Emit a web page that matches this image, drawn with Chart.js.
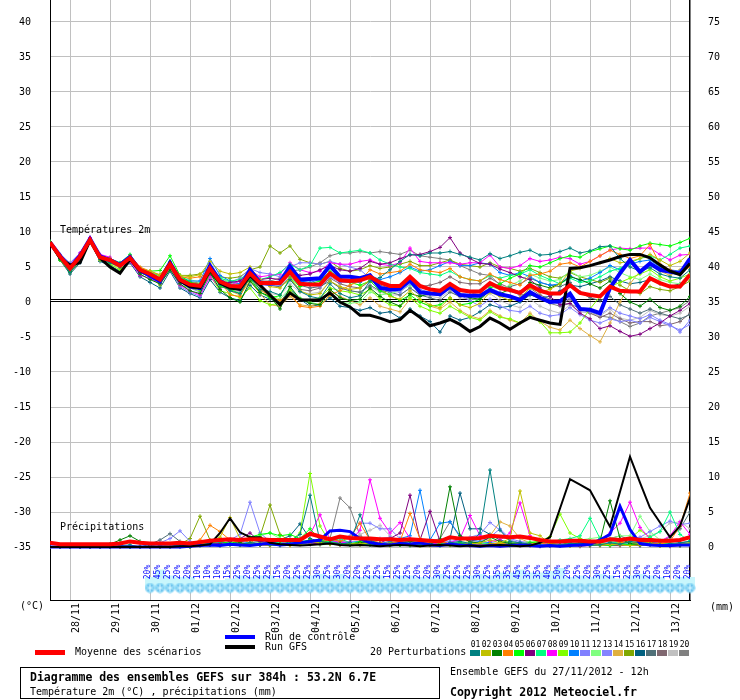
<!DOCTYPE html>
<html>
<head>
<meta charset="utf-8">
<script src="https://cdn.jsdelivr.net/npm/chart.js@4.4.0/dist/chart.umd.min.js"></script>
<style>
body { margin: 0; background: #fff; }
#wrap { position: relative; width: 740px; height: 700px; font-family: "DejaVu Sans Mono", monospace; font-size: 10px; color: #000; }
#wrap canvas { position: absolute; left: 0; top: 0; }
.t { position: absolute; white-space: pre; line-height: 10px; }
.b { font-weight: bold; font-size: 11.5px; line-height: 12px; }
.sw { position: absolute; }
.num { position: absolute; font-size: 8px; line-height: 8px; width: 11px; text-align: center; }
#box { position: absolute; left: 20px; top: 667px; width: 418px; height: 30px; border: 1.5px solid #000; }
</style>
</head>
<body>
<div id="wrap">
  <canvas id="gefs" width="740" height="640"></canvas>
  <div class="t" style="left:60px;top:225px">Températures 2m</div>
  <div class="t" style="left:60px;top:522px">Précipitations</div>
  <div class="t" style="left:20px;top:601px">(°C)</div>
  <div class="t" style="left:710px;top:602px">(mm)</div>

  <div class="sw" style="left:225px;top:635px;width:30px;height:4px;background:#0000ff"></div>
  <div class="t" style="left:265px;top:632px">Run de contrôle</div>
  <div class="sw" style="left:225px;top:645px;width:30px;height:4px;background:#000"></div>
  <div class="t" style="left:265px;top:642px">Run GFS</div>
  <div class="sw" style="left:35px;top:650px;width:30px;height:5px;background:#ff0000"></div>
  <div class="t" style="left:75px;top:647px">Moyenne des scénarios</div>
  <div class="t" style="left:370px;top:647px">20 Perturbations</div>
  <div id="palette"></div>

  <div id="box"></div>
  <div class="t b" style="left:30px;top:671px">Diagramme des ensembles GEFS sur 384h : 53.2N 6.7E</div>
  <div class="t" style="left:30px;top:687px">Température 2m (°C) , précipitations (mm)</div>
  <div class="t" style="left:450px;top:667px">Ensemble GEFS du 27/11/2012 - 12h</div>
  <div class="t b" style="left:450px;top:686px">Copyright 2012 Meteociel.fr</div>
</div>
<script>
// pas de temps (heures depuis le 27/11 12h)
const steps = [0,6,12,18,24,30,36,42,48,54,60,66,72,78,84,90,
  96,102,108,114,120,126,132,138,144,150,156,162,168,174,180,186,
  192,198,204,210,216,222,228,234,240,246,252,258,264,270,276,282,
  288,294,300,306,312,318,324,330,336,342,348,354,360,366,372,378,384];

const dayHours = [12,36,60,84,108,132,156,180,204,228,252,276,300,324,348,372];
const dayLabels = ['28/11','29/11','30/11','01/12','02/12','03/12','04/12','05/12',
  '06/12','07/12','08/12','09/12','10/12','11/12','12/12','13/12'];

const leftTicks = [40,35,30,25,20,15,10,5,0,-5,-10,-15,-20,-25,-30,-35];
const rightTicks = [75,70,65,60,55,50,45,40,35,30,25,20,15,10,5,0];

// probabilité de neige
const snowHours = [60,66,72,78,84,90,96,102,108,114,120,126,132,138,144,150,156,162,
  168,174,180,186,192,198,204,210,216,222,228,234,240,246,252,258,264,270,276,282,
  288,294,300,306,312,318,324,330,336,342,348,354,360,366,372,378,384];
const snowPct = [20,45,25,20,20,10,10,10,15,25,20,25,25,15,20,25,25,30,25,30,20,20,
  25,25,15,25,25,20,20,30,25,25,25,30,25,35,35,45,35,35,40,50,20,25,20,30,25,15,25,
  30,25,20,10,20,20];

const pertColors = ['#008080','#c0c000','#008000','#ff8000','#00ff00','#800080','#00ff80',
  '#ff00ff','#80ff00','#0080ff','#8080ff','#80ff80','#8484ff','#e0b040','#80a800',
  '#006080','#507078','#806870','#c0c0c0','#808080'];

// températures 2m
const tempMean = [8.5,6.5,4.8,6.5, 8.9,6.4,6.0,5.2, 6.3,4.6,4.0,3.2, 5.4,3.2,2.5,2.3,
  4.8,2.9,2.3,2.2, 4.1,2.7,2.7,2.7, 4.3,2.6,2.5,2.5, 4.1,3.1,3.0,3.1,
  3.6,2.8,2.3,2.3, 3.6,2.3,1.8,1.6, 2.6,1.7,1.5,1.5, 2.7,2.0,1.7,1.3,
  2.4,1.6,1.2,1.2, 2.4,1.3,1.0,0.8, 2.2,1.6,1.5,1.5, 3.4,2.7,2.2,2.2, 3.9];
const tempCtrl = [8.5,6.6,4.9,6.6, 9.0,6.5,6.0,5.3, 6.4,4.5,3.8,3.0, 5.6,3.1,2.2,2.0,
  5.2,3.0,2.2,2.0, 4.6,2.8,2.6,2.8, 5.1,3.2,3.3,3.4, 5.2,3.6,3.6,3.4,
  3.8,2.0,1.8,1.9, 3.1,1.4,1.2,1.1, 2.2,1.0,0.9,0.9, 1.7,1.1,0.8,0.3,
  1.4,0.6,0.0,0.1, 1.2,-1.0,-1.1,-1.6, 2.0,4.1,6.0,4.3, 5.5,4.6,4.3,4.1, 6.2];
const tempGfs = [8.5,6.3,5.3,5.6, 8.8,6.3,5.0,4.1, 6.1,4.5,4.0,3.2, 5.5,3.0,2.2,2.0,
  4.6,2.7,2.0,1.8, 3.8,2.4,1.0,-0.4, 1.3,0.3,0.3,0.3, 1.3,0.0,-0.7,-1.9,
  -1.9,-2.3,-2.8,-2.5, -1.2,-2.2,-3.4,-3.0, -2.5,-3.2,-4.2,-3.5, -2.3,-3.0,-3.9,-3.0,
  -2.2,-2.6,-3.0,-3.2, 4.8,4.9,5.2,5.6, 6.0,6.5,6.8,6.8, 6.3,5.3,4.4,3.9, 5.5];

const tempP01 = [8.3,6.2,4.2,6.0, 9.0,6.1,5.6,5.0, 6.5,4.4,3.6,2.8, 5.2,3.0,2.4,1.8,
  4.5,2.5,1.6,1.2, 3.5,1.8,1.5,1.0, 3.2,1.5,0.8,0.5, 2.6,1.2,0.6,0.9,
  3.0,3.5,4.6,5.8, 6.8,6.6,7.0,7.0, 7.2,6.8,6.4,6.0, 6.9,6.2,6.6,7.1,
  7.4,6.7,6.8,7.2, 7.7,7.0,7.3,7.9, 8.0,6.2,5.0,4.4, 4.9,4.0,3.6,3.4, 4.6];
const tempP02 = [8.4,6.4,4.6,6.3, 8.7,6.0,5.8,5.0, 6.0,4.8,4.4,3.8, 5.6,3.8,3.6,3.9,
  5.8,4.4,4.0,4.2, 5.0,3.2,2.2,2.0, 3.4,1.6,1.0,1.2, 3.0,2.2,1.8,2.0,
  3.2,2.0,0.8,0.4, 1.6,0.4,-0.4,-0.8, 0.6,-0.4,-0.8,-0.2, 1.4,0.8,0.2,0.6,
  2.0,1.4,1.8,2.6, 4.4,4.8,5.2,5.6, 6.2,5.6,5.8,6.2, 6.8,6.0,5.2,5.8, 7.0];
const tempP03 = [8.6,6.2,4.4,6.4, 8.8,6.6,5.8,5.5, 6.0,4.0,3.2,2.6, 4.6,2.6,1.6,1.2,
  4.2,1.8,0.6,0.0, 3.0,1.4,0.8,-1.0, 2.2,0.4,-0.2,-0.4, 1.8,0.6,0.2,0.4,
  2.0,0.8,0.0,-0.6, 1.2,0.8,1.2,1.6, 2.2,1.0,0.6,0.4, 1.6,1.2,1.8,1.4,
  2.8,2.4,2.0,2.6, 3.6,3.2,2.6,2.0, 3.0,1.2,0.0,-0.6, 0.4,-0.8,-1.2,-0.6, 0.8];
const tempP04 = [8.5,6.6,5.0,6.8, 9.0,6.3,6.2,5.4, 6.6,5.0,4.4,3.9, 5.5,3.6,3.4,3.6,
  4.2,3.0,1.0,0.8, 3.6,1.8,0.8,0.2, 1.2,-0.6,-0.8,-0.6, 1.0,1.6,2.4,3.0,
  4.6,4.0,4.2,4.4, 5.4,4.6,4.4,4.2, 4.8,3.6,3.2,3.0, 4.0,3.2,2.8,2.4,
  3.8,4.0,4.4,5.4, 5.6,5.0,5.8,6.6, 7.4,6.8,6.2,6.6, 8.2,5.4,4.6,4.2, 5.0];
const tempP05 = [8.6,6.0,4.6,6.2, 9.0,6.2,5.6,5.4, 6.7,4.8,4.4,4.5, 6.6,3.8,2.8,2.5,
  4.4,2.2,1.8,1.2, 3.4,1.4,0.6,0.9, 3.4,2.2,2.6,3.0, 4.4,3.4,2.8,2.4,
  3.0,1.6,1.0,0.2, 1.0,0.0,-0.6,-0.4, 0.6,-0.4,-0.2,0.4, 2.0,2.6,3.4,4.0,
  5.2,5.0,5.6,6.2, 6.6,6.4,7.2,7.6, 8.0,7.6,7.4,8.0, 8.4,8.2,8.0,8.5, 9.1];
const tempP06 = [8.4,6.3,4.6,6.4, 8.8,6.4,6.2,5.2, 6.2,4.2,3.8,3.0, 5.4,3.0,2.6,2.4,
  4.0,2.6,2.8,3.0, 4.2,3.2,3.4,3.2, 4.6,3.8,4.0,4.6, 5.2,4.6,4.4,4.8,
  5.8,5.4,5.6,6.2, 6.7,6.8,7.2,7.8, 9.2,7.0,6.2,5.5, 5.4,4.7,4.2,3.6,
  3.2,2.0,0.8,-0.4, -0.2,-1.6,-2.4,-3.8, -3.4,-4.2,-4.9,-4.6, -3.8,-3.0,-2.0,-1.2, -0.2];
const tempP07 = [8.5,6.4,5.0,6.6, 8.9,6.6,6.2,5.6, 6.8,4.8,4.2,3.8, 5.8,3.6,2.8,2.4,
  5.0,3.4,3.0,3.2, 4.4,3.2,3.6,4.2, 5.4,4.6,5.2,7.7, 7.8,7.0,7.2,7.4,
  7.0,6.0,5.4,5.0, 4.8,4.2,4.0,3.8, 4.4,3.6,3.2,3.0, 3.8,3.4,3.8,4.0,
  4.6,3.8,3.2,2.6, 3.4,2.8,3.0,3.6, 4.4,4.8,5.6,6.2, 6.6,6.0,6.8,7.7, 8.0];
const tempP08 = [8.4,6.6,5.2,7.0, 9.2,6.8,6.4,5.0, 5.8,3.8,3.4,2.6, 5.0,2.4,1.6,1.0,
  3.6,2.0,2.4,3.0, 4.6,3.6,3.8,4.0, 5.6,4.6,4.2,4.4, 5.6,5.4,5.4,5.8,
  6.0,5.4,5.2,5.6, 7.7,5.8,5.6,5.6, 5.6,5.4,5.6,5.6, 6.7,5.0,4.8,5.2,
  6.2,5.8,6.0,6.4, 6.2,5.4,5.8,6.6, 7.4,7.7,7.6,7.7, 7.7,6.8,6.0,6.7, 6.8];
const tempP09 = [8.5,6.4,4.4,6.2, 8.6,6.0,5.4,4.6, 6.0,4.2,3.6,2.4, 4.8,2.4,2.0,1.6,
  3.8,1.6,1.2,0.6, 2.0,0.2,-0.4,-0.2, 1.6,0.4,0.2,0.6, 2.0,1.6,1.4,1.0,
  1.8,0.4,-0.4,-0.6, 0.6,-0.6,-1.2,-1.6, -0.6,-1.4,-2.2,-2.6, -1.4,-2.2,-2.4,-3.0,
  -2.0,-2.8,-4.4,-4.4, -4.3,-3.0,-1.0,0.8, 2.2,2.8,3.4,4.0, 4.6,3.6,3.0,3.4, 4.0];
const tempP10 = [8.6,6.5,5.0,6.6, 9.0,6.6,6.2,5.4, 6.4,4.4,4.0,3.4, 5.6,3.6,3.0,3.0,
  6.2,3.8,3.0,2.6, 4.4,3.0,2.8,2.6, 4.6,3.0,2.8,3.2, 4.0,3.0,2.8,2.8,
  3.8,3.2,3.6,4.2, 5.0,4.4,4.6,5.2, 5.8,5.2,5.2,5.6, 5.4,4.2,3.8,4.2,
  3.6,2.8,2.4,2.6, 3.8,3.0,3.4,4.2, 5.2,4.6,5.4,5.8, 6.0,5.0,4.6,4.4, 5.4];
const tempP11 = [8.4,6.8,5.6,7.0, 8.8,6.2,5.8,5.0, 6.4,4.4,3.4,2.6, 4.6,2.2,1.4,0.8,
  3.8,2.6,2.8,3.4, 4.8,4.2,4.0,3.6, 5.0,5.6,5.6,5.4, 5.8,5.4,5.0,4.6,
  3.4,2.2,1.6,1.4, 2.6,1.8,1.4,1.0, 2.4,1.8,1.4,1.0, 2.0,1.4,0.8,0.4,
  1.4,0.6,0.2,-0.4, 0.6,-0.8,-1.4,-1.8, -0.8,-1.6,-2.0,-2.4, -1.8,-2.6,-3.2,-4.3, -2.6];
const tempP12 = [8.5,6.6,5.2,6.8, 9.0,6.7,6.2,5.6, 6.6,4.8,4.2,3.6, 5.8,3.8,3.2,2.8,
  5.2,3.4,2.8,2.2, 3.8,1.8,1.0,0.4, 2.0,0.6,0.0,-0.4, 1.0,0.0,-0.2,0.0,
  1.4,1.0,1.2,1.6, 2.4,1.6,1.2,1.0, 2.0,1.2,0.8,0.8, 2.2,1.8,2.4,3.0,
  4.0,3.4,3.0,3.2, 4.4,3.6,3.8,4.4, 5.0,4.2,3.6,3.2, 4.0,3.2,2.8,2.6, 3.4];
const tempP13 = [8.6,6.4,4.8,6.4, 8.9,6.3,5.9,5.3, 6.2,4.4,3.8,3.0, 5.2,3.0,2.0,1.4,
  4.4,2.6,2.0,1.6, 3.4,2.4,2.4,2.4, 4.0,2.8,2.4,2.2, 3.6,2.8,2.8,3.0,
  3.4,2.6,2.0,1.8, 3.0,2.2,1.8,1.4, 2.0,1.0,0.2,-0.6, 0.4,-0.6,-1.2,-1.4,
  -0.6,-1.6,-2.0,-1.8, -0.8,-1.8,-2.6,-3.0, -2.4,-2.8,-2.6,-3.0, -2.2,-2.8,-3.4,-4.0, -3.2];
const tempP14 = [8.4,6.2,4.6,6.4, 8.7,6.4,5.6,4.8, 5.8,4.2,3.6,3.0, 5.0,3.2,2.8,2.6,
  4.8,2.8,1.6,1.0, 3.0,1.2,-0.4,-0.6, 0.8,-0.4,-0.6,-0.2, 1.6,0.8,0.2,-0.4,
  0.6,-0.6,-1.0,-1.4, 0.4,0.0,-0.6,-1.0, 0.0,-1.2,-2.0,-2.4, -1.2,-2.0,-2.6,-3.0,
  -1.6,-2.8,-3.6,-4.0, -2.6,-3.8,-4.8,-5.7, -3.0,0.0,2.6,4.4, 5.6,4.4,3.8,4.6, 5.8];
const tempP15 = [8.3,6.0,4.2,5.8, 8.6,6.2,5.6,5.0, 6.0,4.4,4.0,3.8, 5.0,3.8,3.8,4.0,
  5.0,3.6,3.4,3.6, 4.6,5.0,8.0,7.0, 8.0,6.1,5.6,5.4, 5.8,4.8,4.4,4.6,
  5.2,4.8,5.0,5.4, 5.8,5.2,5.2,5.6, 6.0,5.4,5.2,5.0, 5.6,5.0,4.8,4.4,
  4.8,4.2,3.6,3.4, 4.2,3.6,3.2,2.8, 3.4,2.4,1.6,1.2, 2.2,1.8,1.6,2.2, 3.0];
const tempP16 = [8.3,6.0,4.0,5.6, 8.6,5.8,5.2,4.4, 5.6,3.6,2.8,2.0, 4.4,2.0,1.2,0.6,
  3.2,1.4,0.6,0.2, 2.4,1.0,0.4,0.0, 1.8,0.4,-0.6,-0.4, 0.6,-0.6,-0.8,-1.2,
  -0.8,-1.6,-1.4,-2.3, -1.0,-2.0,-2.8,-4.3, -2.0,-2.6,-2.2,-1.4, -0.4,-0.8,-0.6,0.0,
  1.0,0.6,0.8,1.6, 2.4,2.2,2.6,3.0, 3.6,3.0,2.6,2.8, 3.2,2.6,2.2,2.6, 3.6];
const tempP17 = [8.5,6.2,4.4,6.1, 8.7,6.0,5.8,5.2, 6.1,4.4,3.8,3.2, 5.2,3.4,2.8,2.6,
  4.6,3.0,2.6,2.4, 3.6,2.6,2.4,2.2, 3.6,2.4,2.0,2.2, 3.0,2.0,1.6,1.4,
  2.4,1.6,1.4,1.0, 2.0,1.0,0.6,0.2, 1.4,0.8,1.0,1.6, 2.4,2.0,2.2,2.6,
  3.4,2.8,2.4,2.2, 2.8,1.4,0.6,0.2, 0.8,-0.4,-1.0,-1.6, -1.0,-1.6,-2.0,-2.4, -1.8];
const tempP18 = [8.6,6.6,5.0,6.7, 9.1,6.5,6.0,5.2, 6.4,4.6,4.0,3.4, 5.4,3.4,2.6,2.2,
  4.6,2.6,2.2,2.0, 3.8,2.6,2.4,2.2, 3.2,1.8,1.6,2.0, 3.4,2.6,2.2,2.0,
  3.0,2.4,2.0,1.8, 2.8,2.2,2.4,2.8, 3.6,2.8,2.6,2.6, 3.4,2.6,2.0,1.4,
  2.0,1.0,0.4,-0.4, 0.4,-0.8,-1.6,-2.2, -1.6,-2.4,-3.0,-2.8, -2.8,-3.4,-3.2,-2.8, -1.6];
const tempP19 = [8.4,6.5,4.9,6.5, 8.8,6.4,5.9,5.1, 6.2,4.5,3.9,3.1, 5.3,3.2,2.4,2.0,
  4.4,2.4,1.8,1.4, 3.2,1.6,1.2,1.0, 2.6,1.4,1.2,1.4, 3.0,2.0,1.6,1.4,
  2.2,1.4,1.0,1.0, 2.0,1.2,0.8,0.6, 1.6,0.6,0.4,0.4, 1.2,0.2,-0.4,-0.8,
  0.4,-0.6,-1.2,-1.6, -0.4,-1.4,-1.6,-2.0, -1.0,-2.3,-2.6,-2.2, -1.2,-1.8,-2.0,-1.6, -0.6];
const tempP20 = [8.6,6.3,4.6,6.6, 9.0,6.4,6.0,5.3, 6.5,4.7,4.1,3.5, 5.6,3.5,2.9,2.7,
  5.0,3.2,2.8,2.6, 4.2,3.0,3.0,3.4, 4.4,4.6,5.0,5.6, 6.6,7.0,7.0,7.2,
  7.0,7.2,7.0,6.8, 7.4,6.6,6.4,6.2, 6.0,5.2,4.6,4.0, 3.8,2.4,1.6,1.0,
  1.2,0.4,-0.2,-0.6, -0.2,-1.0,-1.4,-2.0, -2.2,-2.8,-3.5,-3.0, -2.0,-1.6,-1.2,-0.8, 0.2];

// précipitations (mm)
const precMean = [0.6,0.4,0.4,0.4,0.4,0.4,0.4,0.5,0.8,0.6,0.5,0.5,0.5,0.6,0.5,0.7,
  0.9,1.0,1.1,1.0,1.1,1.1,1.0,1.0,1.0,1.0,1.9,1.5,1.1,1.5,1.3,1.2,
  1.2,1.1,1.1,1.0,1.1,1.0,0.9,0.8,1.4,1.2,1.2,1.3,1.6,1.5,1.4,1.5,
  1.3,1.0,0.8,0.8,0.9,0.9,0.8,0.8,1.1,1.0,1.2,1.0,1.0,0.9,0.9,1.0, 1.4];
const precCtrl = [0,0,0,0,0,0,0,0,0,0,0,0,0,0,0.1,0.2,
  0.3,0.2,0.4,0.3,0.2,0.4,0.5,0.3,0.4,0.6,0.8,1.0,2.3,2.4,2.2,1.2,
  0.6,0.4,0.3,0.5,0.4,0.6,0.3,0.2,0.4,0.3,0.2,0.1,0.2,0.1,0.2,0.3,
  0.2,0.1,0.2,0.1,0.2,0.3,0.4,1.0,1.8,5.8,2.5,0.5,0.3,0.2,0.2,0.3, 0.3];
const precGfs = [0,0,0,0,0,0,0,0,0,0,0,0,0,0.1,0.1,0.2,
  0.4,2.0,4.1,2.1,1.4,1.4,0.6,0.4,0.3,0.2,0.3,0.4,0.5,0.3,0.2,0.3,
  0.2,0.1,0.2,0.3,0.2,0.1,0.2,0.3,0.2,0.1,0.2,0.1,0.2,0.3,0.2,0.1,
  0.2,0.6,1.4,5.5,9.7,8.9,8.1,5.5,2.9,7.9,12.9,9.2,5.6,3.5,1.4,3.0, 7.0];

const precP01 = [0,0,0,0,0,0,0,0.2,0.3,0,0,0.2,0.4,0,0,0.3,
  0.5,0.2,0.4,0.3,0.6,0.4,0.3,0.2,0.8,1.8,7.4,0.8,0.6,0.4,0.6,4.6,
  1.0,0.4,0.3,0.6,0.5,0.3,0.4,0.2,0.6,0.8,0.5,2.0,11.0,2.4,0.8,0.6,
  0.4,0.2,0.2,0.3,0.5,0.4,0.2,0.3,0.6,0.4,0.8,0.6,0.4,0.3,0.5,0.6, 0.8];
const precP02 = [0,0,0,0,0,0,0,0,0.2,0.1,0,0,0.3,0.2,0,0.4,
  0.8,1.4,4.2,1.2,0.6,0.4,0.2,0.3,0.2,0.4,0.8,0.6,0.4,0.3,0.5,0.4,
  0.6,0.3,0.2,0.4,0.3,0.2,0.2,0.3,0.5,0.3,0.4,0.6,1.0,0.6,1.2,8.0,
  2.0,1.6,0.5,0.3,0.2,0.2,0.3,0.2,0.4,0.3,0.2,0.3,0.4,0.2,0.3,0.5, 0.6];
const precP03 = [0,0,0,0,0,0,0.4,1.0,1.6,0.8,0.2,0,0,0.2,0.1,0.3,
  0.4,0.3,0.5,0.6,0.4,0.3,0.6,0.4,0.5,0.6,1.0,0.7,0.6,0.5,0.4,0.6,
  0.5,0.4,0.3,0.6,0.8,0.6,0.4,1.0,8.6,1.6,0.7,0.6,1.4,0.8,0.5,0.4,
  0.3,0.2,0.3,0.2,0.4,0.6,0.3,0.8,6.6,1.2,0.5,0.3,0.4,0.2,0.3,0.2, 0.3];
const precP04 = [0,0,0,0,0,0,0,0,0.2,0,0,0,0.2,0.3,0.4,1.0,
  3.1,2.2,1.0,0.6,0.4,0.3,0.2,0.4,0.3,0.6,0.8,0.5,1.2,0.8,1.4,3.4,
  1.0,0.6,0.4,0.8,4.8,1.2,0.6,0.8,0.4,0.3,0.5,0.3,0.4,0.6,0.3,0.5,
  0.4,0.6,0.3,0.2,0.5,0.4,0.2,0.3,0.4,0.6,0.8,0.5,0.6,0.4,0.8,3.0, 7.7];
const precP05 = [0,0,0,0,0,0,0,0,0,0,0,0,0.2,0.3,0.2,0.4,
  0.6,0.8,0.5,0.9,1.4,1.8,2.0,1.6,1.8,1.2,2.6,1.0,0.6,0.5,0.4,0.8,
  0.6,0.4,0.5,0.3,0.4,0.6,0.8,0.5,0.4,0.6,0.3,0.2,0.4,0.5,0.3,0.4,
  0.6,0.8,0.5,0.3,0.2,0.4,0.6,0.3,0.2,0.4,0.3,0.5,0.6,0.4,0.3,0.5, 0.4];
const precP06 = [0,0,0,0,0,0,0,0,0,0.1,0,0,0.2,0.2,0.3,0.3,
  0.4,0.5,0.8,1.2,2.0,0.8,0.6,0.4,0.3,0.5,0.6,0.4,0.5,0.3,0.4,0.6,
  0.8,0.6,1.2,2.0,7.4,1.0,5.1,0.8,0.4,0.3,0.2,0.3,0.4,0.2,0.3,0.2,
  0.2,0.1,0.2,0.3,0.2,0.1,0.2,0.3,0.2,0.2,0.3,0.2,0.4,0.2,0.1,0.2, 0.2];
const precP07 = [0,0,0,0,0,0,0,0,0,0,0.2,0,0.2,0.3,0.2,0.2,
  0.4,0.3,0.6,0.4,0.6,0.4,0.8,0.6,0.5,0.8,1.0,0.6,0.8,1.2,0.6,0.4,
  0.3,0.5,0.4,0.3,0.2,0.4,0.3,0.2,0.4,0.6,0.3,0.4,0.5,0.3,0.2,0.4,
  0.3,0.5,0.8,1.0,1.2,1.6,4.1,1.2,0.8,0.5,0.6,0.8,1.4,2.2,5.0,1.8, 0.8];
const precP08 = [0,0,0,0,0,0,0,0,0,0,0,0,0.2,0.2,0.3,0.2,
  0.4,0.3,0.5,0.4,0.3,0.4,0.5,0.6,0.8,1.2,1.8,4.6,1.0,0.6,0.8,2.4,
  9.6,4.1,2.0,3.5,1.2,0.8,0.6,0.4,0.6,1.2,4.5,1.6,0.8,1.0,2.0,6.3,
  1.6,0.6,0.4,0.3,0.2,0.4,0.6,1.0,2.0,3.4,6.4,2.8,1.2,0.8,1.6,3.6, 1.8];
const precP09 = [0,0,0,0,0,0,0,0,0,0,0,0,0.1,0.2,0.2,0.3,
  0.3,0.4,0.3,0.2,0.4,0.6,0.4,0.5,0.8,2.0,10.5,3.0,0.6,0.4,0.3,0.5,
  0.4,0.3,0.2,0.3,0.4,0.2,0.3,0.4,0.2,0.3,0.5,0.4,0.3,0.6,0.8,0.4,
  0.6,0.8,1.5,4.7,2.0,1.2,0.8,0.6,0.4,0.8,1.2,2.4,1.4,0.6,0.4,0.3, 0.6];
const precP10 = [0,0,0,0,0,0,0,0,0,0,0,0,0.2,0.3,0.2,0.3,
  0.5,0.6,0.4,0.8,0.6,0.4,0.5,0.6,0.7,0.8,0.6,0.5,0.8,0.6,0.7,0.8,
  0.6,0.5,0.8,1.2,1.6,8.1,1.0,3.4,3.6,1.6,1.0,0.8,0.6,0.5,0.4,0.6,
  0.4,0.3,0.2,0.3,0.4,0.2,0.3,0.4,0.6,0.4,0.3,0.2,0.4,0.3,0.2,0.4, 0.5];
const precP11 = [0,0,0,0,0,0,0,0,0,0,0,0.6,1.2,2.3,0.8,0.4,
  0.6,0.8,1.0,1.8,6.4,2.0,0.8,0.6,0.5,0.6,0.8,0.7,0.6,0.9,1.6,3.4,
  3.4,2.6,2.6,1.2,0.8,0.6,0.9,1.0,0.8,0.6,0.5,0.8,1.4,2.6,1.2,0.8,
  0.6,0.4,0.3,0.5,0.8,1.2,0.8,0.6,0.5,0.8,1.2,1.4,2.2,3.0,3.7,3.2, 3.4];
const precP12 = [0,0,0,0,0,0,0,0,0,0,0,0,0.2,0.1,0.3,0.2,
  0.5,0.4,0.8,1.0,1.2,1.6,2.0,1.2,0.6,0.4,0.5,0.3,0.4,0.6,0.5,0.4,
  0.3,0.5,0.4,0.6,0.5,0.3,0.4,0.6,0.5,0.8,0.6,0.4,0.5,0.3,0.4,0.6,
  0.8,0.6,0.4,0.5,0.8,1.0,1.2,1.4,1.2,1.6,1.6,4.4,2.2,1.0,0.6,0.4, 0.5];
const precP13 = [0,0,0,0,0,0,0,0,0,0,0.1,0,0.2,0.2,0.3,0.2,
  0.3,0.4,0.3,0.5,0.4,0.6,0.8,0.5,0.4,0.6,0.5,0.4,0.6,0.8,0.5,0.6,
  0.8,1.2,1.4,1.0,0.6,0.8,0.5,0.6,0.8,1.0,1.4,1.8,3.5,2.4,1.0,0.6,
  0.4,0.3,0.4,0.2,0.3,0.5,0.4,0.3,0.6,0.8,0.4,0.3,0.5,0.6,0.4,0.3, 0.4];
const precP14 = [0,0,0,0,0,0,0,0,0,0,0,0,0.2,0.3,0.2,0.4,
  0.6,0.8,0.5,0.4,0.3,0.5,0.4,0.6,0.5,0.4,0.8,1.0,0.6,0.5,0.4,0.6,
  0.5,0.4,0.8,0.6,0.4,0.5,0.6,0.8,0.6,0.5,0.8,1.2,1.6,3.6,3.0,1.2,
  0.6,0.4,0.3,0.2,0.4,0.3,0.2,0.6,0.4,0.3,0.5,0.4,0.3,0.5,0.6,0.4, 0.5];
const precP15 = [0,0,0,0,0,0,0,0,0,0,0,0,0.2,0.4,1.2,4.4,
  1.0,0.6,0.5,0.4,0.6,1.5,6.0,1.8,0.8,0.6,0.5,0.6,0.4,0.5,0.4,0.3,
  0.4,0.3,0.6,0.5,0.4,0.3,0.6,0.8,0.5,0.6,0.4,0.3,0.5,0.4,0.3,0.6,
  0.5,0.4,0.3,0.5,0.4,0.6,0.3,0.5,0.4,0.6,0.4,0.3,0.5,0.4,0.6,0.3, 0.5];
const precP16 = [0,0,0,0,0,0,0,0,0,0,0,0,0.2,0.3,0.2,0.3,
  0.4,0.6,0.5,0.4,0.6,0.8,0.6,1.0,1.6,3.3,1.2,0.8,0.6,0.5,0.4,0.6,
  0.5,0.4,0.6,0.8,0.5,0.6,0.8,1.0,1.2,7.7,2.6,2.6,1.8,1.0,0.6,0.5,
  0.4,0.3,0.5,0.4,0.6,0.5,0.4,0.3,0.6,0.8,0.5,0.4,0.6,0.5,0.4,0.6, 0.8];
const precP17 = [0,0,0,0,0,0,0,0,0,0,0.4,1.0,1.9,0.8,0.4,0.2,
  0.3,0.4,0.3,0.5,0.4,0.3,0.5,0.4,0.6,0.5,0.4,0.6,0.5,0.4,0.3,0.5,
  0.6,0.4,0.3,0.5,0.4,0.6,0.5,0.3,0.4,0.6,0.5,0.4,0.3,0.5,0.4,0.6,
  0.5,0.4,0.3,0.2,0.4,0.6,0.8,1.0,1.2,1.6,1.0,0.8,0.6,0.8,1.4,2.6, 5.0];
const precP18 = [0,0,0,0,0,0,0,0,0,0,0,0,0.1,0.2,0.1,0.2,
  0.3,0.2,0.4,0.3,0.5,0.4,0.3,0.5,0.6,0.4,0.5,0.8,1.2,0.8,0.6,0.4,
  0.3,0.4,0.5,0.3,0.2,0.4,0.5,0.3,0.4,0.3,0.2,0.4,0.5,0.3,0.2,0.3,
  0.4,0.3,0.2,0.3,0.4,0.5,0.3,0.2,0.4,0.3,0.5,0.4,0.3,0.4,0.2,0.3, 0.4];
const precP19 = [0,0,0,0,0,0,0,0,0,0,0,0,0.1,0.1,0.2,0.2,
  0.3,0.4,0.3,0.2,0.4,0.3,0.4,0.5,0.4,0.6,0.5,0.4,0.6,0.8,1.2,1.8,
  2.4,3.1,1.6,0.8,0.6,0.4,0.3,0.5,0.4,0.3,0.2,0.4,0.3,0.5,0.4,0.3,
  0.2,0.3,0.4,0.3,0.2,0.4,0.3,0.5,0.4,0.6,0.8,1.2,1.6,2.2,3.4,3.6, 2.6];
const precP20 = [0,0,0,0,0,0,0,0,0,0,0,0,0.2,0.2,0.3,0.4,
  0.3,0.5,0.4,0.3,0.5,0.4,0.6,0.5,0.6,0.8,0.6,0.8,1.2,7.0,5.6,1.6,
  0.8,0.6,0.5,0.4,0.6,0.5,0.8,1.2,3.6,1.4,0.8,0.6,0.5,0.4,0.6,0.5,
  0.4,0.3,0.5,0.4,0.3,0.5,0.4,0.6,0.5,0.4,0.6,0.8,0.6,0.5,0.4,0.3, 0.4];

const tempPerts = [tempP01,tempP02,tempP03,tempP04,tempP05,tempP06,tempP07,tempP08,tempP09,tempP10,
  tempP11,tempP12,tempP13,tempP14,tempP15,tempP16,tempP17,tempP18,tempP19,tempP20];
const precPerts = [precP01,precP02,precP03,precP04,precP05,precP06,precP07,precP08,precP09,precP10,
  precP11,precP12,precP13,precP14,precP15,precP16,precP17,precP18,precP19,precP20];

const FONT = '"DejaVu Sans Mono", monospace';

// palette des perturbations
const pal = document.getElementById('palette');
pertColors.forEach((c, k) => {
  const n = document.createElement('div');
  n.className = 'num';
  n.style.left = (470 + 11 * k) + 'px';
  n.style.top = '641px';
  n.textContent = String(k + 1).padStart(2, '0');
  pal.appendChild(n);
  const s = document.createElement('div');
  s.className = 'sw';
  s.style.cssText = 'left:' + (470 + 11 * k) + 'px;top:650px;width:10px;height:6px;background:' + c;
  pal.appendChild(s);
});

function pts(arr) {
  return arr.map((v, i) => ({ x: steps[i], y: v }));
}

function mainSet(arr, col, axis, w) {
  return { data: pts(arr), yAxisID: axis, borderColor: col, backgroundColor: col,
    borderWidth: w, pointRadius: 0 };
}

function pertSet(arr, col, axis) {
  return { data: pts(arr), yAxisID: axis, borderColor: col, backgroundColor: col,
    borderWidth: 1, pointStyle: 'cross', pointRadius: 2, pointBorderWidth: 1,
    pointBorderColor: col };
}

// premier dataset = dessiné au-dessus
const datasets = [
  mainSet(tempMean, '#ff0000', 'yT', 4),
  mainSet(precMean, '#ff0000', 'yP', 4),
  mainSet(tempGfs, '#000000', 'yT', 3),
  mainSet(precGfs, '#000000', 'yP', 2),
  mainSet(tempCtrl, '#0000ff', 'yT', 4),
  mainSet(precCtrl, '#0000ff', 'yP', 3)
];
tempPerts.forEach((a, k) => datasets.push(pertSet(a, pertColors[k], 'yT')));
precPerts.forEach((a, k) => datasets.push(pertSet(a, pertColors[k], 'yP')));

// flocon
function makeFlake() {
  const c = document.createElement('canvas');
  c.width = 11; c.height = 11;
  const g = c.getContext('2d');
  g.fillStyle = '#80d2f4';
  g.beginPath(); g.arc(5.5, 5.5, 5, 0, Math.PI * 2); g.fill();
  g.strokeStyle = '#c8f0ff'; g.lineWidth = 1;
  for (let a = 0; a < 3; a++) {
    const ang = a * Math.PI / 3 + Math.PI / 2;
    g.beginPath();
    g.moveTo(5.5 - 4 * Math.cos(ang), 5.5 - 4 * Math.sin(ang));
    g.lineTo(5.5 + 4 * Math.cos(ang), 5.5 + 4 * Math.sin(ang));
    g.stroke();
  }
  g.fillStyle = '#3c9ee0';
  [[3, 3], [7, 3], [3, 7], [7, 7]].forEach(p => g.fillRect(p[0], p[1], 1, 1));
  g.fillStyle = '#ffffff';
  g.fillRect(5, 5, 1, 1);
  return c;
}
const flake = makeFlake();

const snowPlugin = {
  id: 'snow',
  beforeDatasetsDraw(chart) {
    const { ctx, chartArea: a } = chart;
    const x = chart.scales.x;
    ctx.save();
    // double ligne du zéro
    const y0 = Math.round(chart.scales.yT.getPixelForValue(0));
    ctx.strokeStyle = '#000';
    ctx.lineWidth = 1;
    ctx.beginPath();
    ctx.moveTo(a.left, y0 - 0.5); ctx.lineTo(a.right, y0 - 0.5);
    ctx.moveTo(a.left, y0 - 2.5); ctx.lineTo(a.right, y0 - 2.5);
    ctx.stroke();
    // barres de probabilité de neige
    ctx.fillStyle = '#c8f6fc';
    snowHours.forEach((h, k) => {
      const px = Math.round(x.getPixelForValue(h));
      const hgt = snowPct[k] * 0.3;
      ctx.fillRect(px - 5, a.bottom - 17 - hgt, 10, hgt + 6);
    });
    snowHours.forEach(h => {
      const px = Math.round(x.getPixelForValue(h));
      ctx.drawImage(flake, px - 5.5, a.bottom - 17.5);
    });
    ctx.fillStyle = '#0000ff';
    ctx.font = '8px ' + FONT;
    ctx.textAlign = 'center';
    ctx.textBaseline = 'middle';
    snowHours.forEach((h, k) => {
      const px = Math.round(x.getPixelForValue(h));
      ctx.save();
      ctx.translate(px - 2, a.bottom - 28);
      ctx.rotate(-Math.PI / 2);
      ctx.fillText(snowPct[k] + '%', 0, 0);
      ctx.restore();
    });
    ctx.restore();
  }
};

new Chart(document.getElementById('gefs'), {
  type: 'line',
  data: { datasets: datasets },
  plugins: [snowPlugin],
  options: {
    responsive: false,
    animation: false,
    devicePixelRatio: 1,
    layout: { padding: 0, autoPadding: false },
    elements: { line: { tension: 0 } },
    plugins: { legend: { display: false }, tooltip: { enabled: false } },
    scales: {
      x: {
        type: 'linear', min: 0, max: 384, bounds: 'data',
        afterBuildTicks: s => { s.ticks = dayHours.map(v => ({ value: v })); },
        afterFit: s => { s.height = 40; s.paddingLeft = 0; s.paddingRight = 0; },
        ticks: {
          callback: (v, i) => dayLabels[i],
          minRotation: 90, maxRotation: 90, autoSkip: false,
          labelOffset: 6, padding: 3, color: '#000',
          font: { family: FONT, size: 10 }
        },
        grid: { color: '#c0c0c0', drawTicks: false },
        border: { color: '#000', width: 1 }
      },
      yT: {
        position: 'left', min: -42.57, max: 43.14, bounds: 'data',
        afterBuildTicks: s => { s.ticks = leftTicks.map(v => ({ value: v })); },
        afterFit: s => { s.width = 50; s.paddingTop = 0; s.paddingBottom = 0; },
        ticks: { padding: 19, color: '#000', font: { family: FONT, size: 10 } },
        grid: { color: '#c0c0c0', drawTicks: false },
        border: { color: '#000', width: 1 }
      },
      yP: {
        position: 'right', min: -7.57, max: 78.14, bounds: 'data',
        afterBuildTicks: s => { s.ticks = rightTicks.map(v => ({ value: v })); },
        afterFit: s => { s.width = 50; s.paddingTop = 0; s.paddingBottom = 0; },
        ticks: { padding: 18, color: '#000', font: { family: FONT, size: 10 } },
        grid: { display: false, drawTicks: false },
        border: { color: '#000', width: 1.5 }
      }
    }
  }
});
</script>
</body>
</html>
